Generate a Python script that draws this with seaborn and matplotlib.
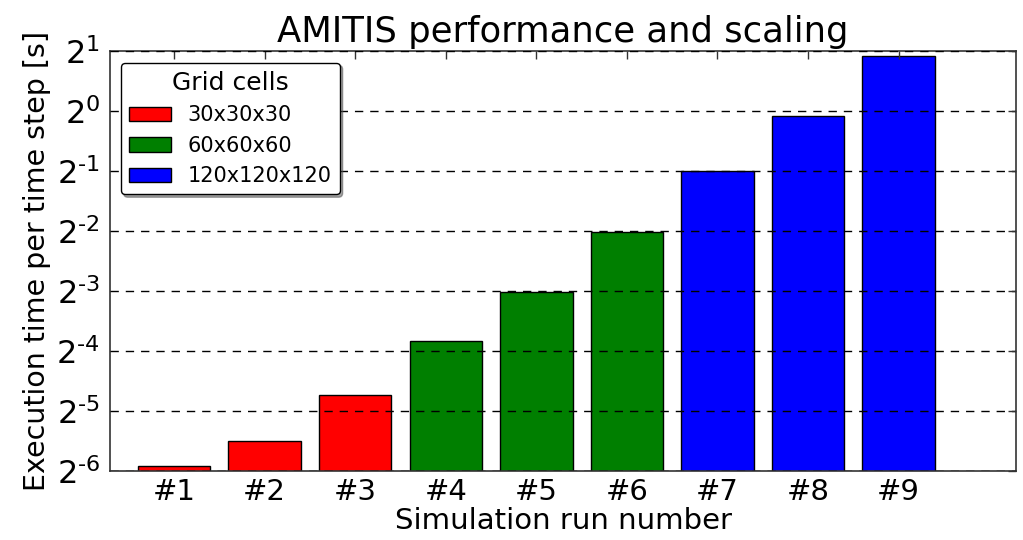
import numpy as np
import pandas as pd
import seaborn as sns
import matplotlib
matplotlib.use('Agg')
import matplotlib.pyplot as plt

# values (seconds per time step)
runs = ['#1', '#2', '#3', '#4', '#5', '#6', '#7', '#8', '#9']
exec_time = [0.0165, 0.0221, 0.0377, 0.0702, 0.1235, 0.248, 0.498, 0.941, 1.875]
grid_cells = ['30x30x30'] * 3 + ['60x60x60'] * 3 + ['120x120x120'] * 3
grid_levels = ['30x30x30', '60x60x60', '120x120x120']
grid_colors = ['#ff0000', '#007f00', '#0000ff']
ytick_exp = [-6, -5, -4, -3, -2, -1, 0, 1]
ytick_labels = [r'$2^{\text{%d}}$' % e for e in ytick_exp]

df = pd.DataFrame({'run': runs, 'time': exec_time, 'grid': grid_cells})

sns.set_style('white')
plt.rcParams['font.family'] = ['DejaVu Sans']
plt.rcParams['mathtext.default'] = 'regular'
for k in ['text.color', 'axes.labelcolor', 'xtick.color', 'ytick.color']:
    plt.rcParams[k] = 'black'

fig = plt.figure(figsize=(10.23, 5.4), dpi=100)
ax = fig.add_axes([0.1075, 0.128, 0.886, 0.778])

sns.barplot(data=df, x='run', y='time', hue='grid', hue_order=grid_levels,
            palette=grid_colors, dodge=False, width=0.8, saturation=1,
            edgecolor='black', linewidth=1, ax=ax)

ax.set_yscale('log', base=2)
ax.set_ylim(2.0 ** -6, 2.0 ** 1)
ax.set_xlim(-0.707, 9.3)
ax.set_yticks([2.0 ** e for e in ytick_exp])
ax.set_yticklabels(ytick_labels)
ax.minorticks_off()

ax.set_axisbelow(False)
ax.yaxis.grid(True, linestyle=(0, (6, 5)), color='black', linewidth=1)
ax.xaxis.grid(False)

ax.tick_params(axis='both', which='major', direction='in', top=True, right=True,
               length=6, width=1, color='#333333', labelsize=21, pad=5)
ax.tick_params(axis='y', labelsize=23, pad=7)
for s in ax.spines.values():
    s.set_color('#333333')
    s.set_linewidth(1.2)

ax.set_title('AMITIS performance and scaling', fontsize=25.5, pad=6)
ax.set_xlabel('Simulation run number', fontsize=21, labelpad=1)
ax.set_ylabel('Execution time per time step [s]', fontsize=20.5, labelpad=4)

leg = ax.legend(title='Grid cells', loc='upper left', bbox_to_anchor=(0.012, 0.972),
                borderaxespad=0, fontsize=15, title_fontsize=18, shadow=True,
                fancybox=True, frameon=True, handlelength=2.0, handleheight=0.7,
                borderpad=0.4, labelspacing=0.5, handletextpad=0.8)
leg.get_frame().set_edgecolor('black')
leg.get_frame().set_linewidth(1)

fig.savefig('out.png', dpi=100)
